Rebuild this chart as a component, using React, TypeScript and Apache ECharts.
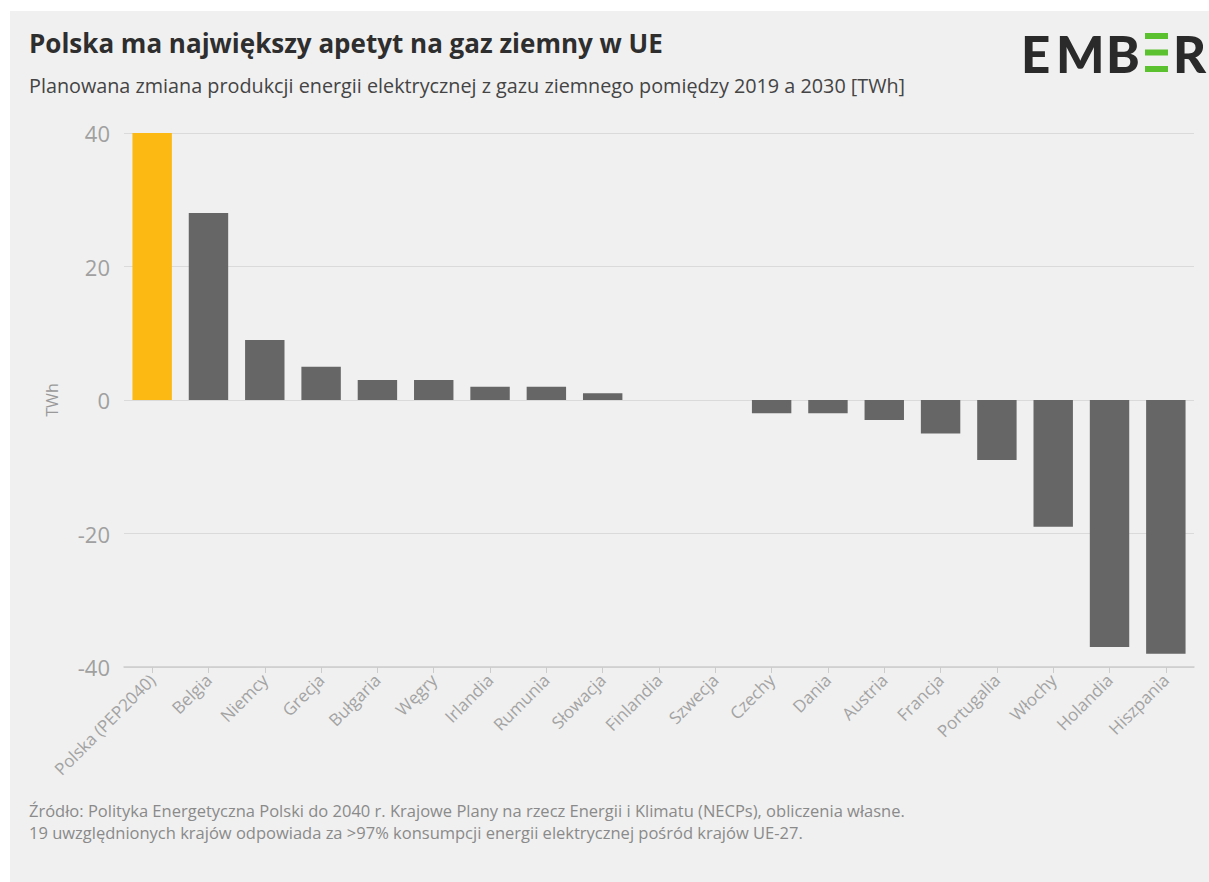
import React, { useEffect, useRef } from "react";
import * as echarts from "echarts";

const categories = [
  "Polska (PEP2040)", "Belgia", "Niemcy", "Grecja", "Bułgaria", "Węgry", "Irlandia",
  "Rumunia", "Słowacja", "Finlandia", "Szwecja", "Czechy", "Dania", "Austria",
  "Francja", "Portugalia", "Włochy", "Holandia", "Hiszpania",
];
const values = [40, 28, 9, 5, 3, 3, 2, 2, 1, 0, 0, -2, -2, -3, -5, -9, -19, -37, -38];
const highlighted = ["Polska (PEP2040)"];
const yTicks = { min: -40, max: 40, interval: 20 };

const titleText = "Polska ma największy apetyt na gaz ziemny w UE";
const subtitleText = "Planowana zmiana produkcji energii elektrycznej z gazu ziemnego pomiędzy 2019 a 2030 [TWh]";
const footerLines = [
  "Źródło: Polityka Energetyczna Polski do 2040 r. Krajowe Plany na rzecz Energii i Klimatu (NECPs), obliczenia własne.",
  "19 uwzględnionych krajów odpowiada za >97% konsumpcji energii elektrycznej pośród krajów UE-27.",
];

const FONT = "'Open Sans', Lato, sans-serif";
const LOGO_FONT = "Lato, 'Open Sans', sans-serif";

export default function App() {
  const ref = useRef<HTMLDivElement>(null);
  useEffect(() => {
    if (!ref.current) return;
    const chart = echarts.init(ref.current, undefined, { renderer: "svg" });
    const logoFont = { fontFamily: LOGO_FONT, fontWeight: 900, fontSize: 51, fill: "#2a2a2a" } as any;
    chart.setOption({
      animation: false,
      backgroundColor: "#ffffff",
      textStyle: { fontFamily: FONT },
      graphic: [
        { type: "rect", z: -10, shape: { x: 10, y: 11, width: 1199, height: 871 }, style: { fill: "#f0f0f0" } },
        { type: "text", left: 29, top: 30, style: { text: titleText, font: `bold 26px ${FONT}`, fill: "#2e2e2e" } },
        { type: "text", left: 29, top: 75, style: { text: subtitleText, font: `19.8px ${FONT}`, fill: "#444444" } },
        { type: "text", left: 29, top: 802, style: { text: footerLines[0], font: `16.5px ${FONT}`, fill: "#8a8a8a" } },
        { type: "text", left: 29, top: 824, style: { text: footerLines[1], font: `16.5px ${FONT}`, fill: "#8a8a8a" } },
        { type: "text", x: 1021, y: 28, style: { ...logoFont, text: "E" } },
        { type: "text", x: 1056, y: 28, style: { ...logoFont, text: "M" } },
        { type: "text", x: 1106, y: 28, style: { ...logoFont, text: "B" } },
        { type: "text", x: 1173, y: 28, style: { ...logoFont, text: "R" } },
        { type: "rect", shape: { x: 1145, y: 33, width: 23, height: 6 }, style: { fill: "#5cc12e" } },
        { type: "rect", shape: { x: 1145, y: 49.5, width: 23, height: 6 }, style: { fill: "#5cc12e" } },
        { type: "rect", shape: { x: 1145, y: 66, width: 23, height: 6 }, style: { fill: "#5cc12e" } },
      ],
      grid: { left: 124, right: 15, top: 133, bottom: 215 },
      xAxis: {
        type: "category",
        data: categories,
        axisLine: { onZero: false, lineStyle: { color: "#cccccc", width: 1.5 } },
        axisTick: { show: true, alignWithLabel: true, length: 6, lineStyle: { color: "#cccccc" } },
        axisLabel: { rotate: 45, interval: 0, color: "#a3a3a3", fontSize: 17, margin: 10, fontFamily: FONT },
      },
      yAxis: {
        type: "value",
        min: yTicks.min,
        max: yTicks.max,
        interval: yTicks.interval,
        name: "TWh",
        nameLocation: "middle",
        nameGap: 64,
        nameTextStyle: { color: "#999999", fontSize: 16, fontFamily: FONT },
        axisLine: { show: false },
        axisTick: { show: false },
        axisLabel: { color: "#a0a0a0", fontSize: 22, margin: 14, fontFamily: FONT },
        splitLine: { lineStyle: { color: "#dadada", width: 1.2 } },
      },
      series: [
        {
          type: "bar",
          barWidth: "70%",
          data: values.map((v, i) => ({
            value: v,
            itemStyle: { color: highlighted.includes(categories[i]) ? "#fdb913" : "#666666" },
          })),
        },
      ],
    });
    return () => chart.dispose();
  }, []);
  return (
    <div
      ref={ref}
      style={{ position: "absolute", left: 0, top: 0, width: 1209, height: 882 }}
    />
  );
}
